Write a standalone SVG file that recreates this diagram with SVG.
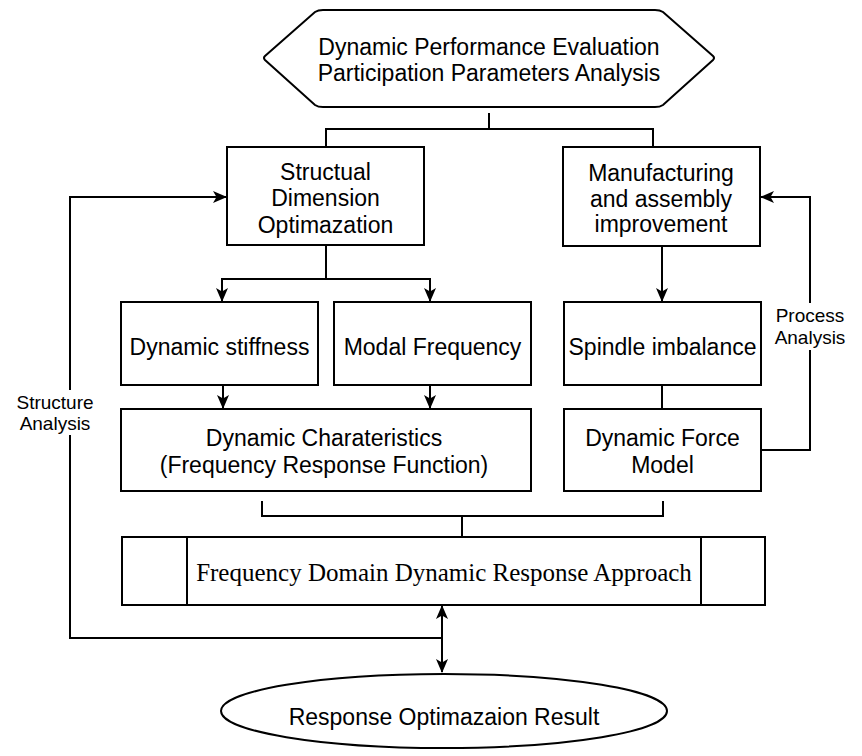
<svg xmlns="http://www.w3.org/2000/svg" width="862" height="756" viewBox="0 0 862 756">
<defs>
<marker id="arr" viewBox="0 0 14 12" refX="13" refY="6" markerWidth="14" markerHeight="12" markerUnits="userSpaceOnUse" orient="auto-start-reverse">
<path d="M0,0 L14,6 L0,12 L3.5,6 z" fill="#000"/>
</marker>
<style>
.box{fill:#fff;stroke:#000;stroke-width:2}
.ln{fill:none;stroke:#000;stroke-width:2}
.t{font-family:"Liberation Sans",Arial,sans-serif;font-size:23px;fill:#000;text-anchor:middle;dominant-baseline:central}
.s{font-family:"Liberation Sans",Arial,sans-serif;font-size:19px;fill:#000;text-anchor:middle;dominant-baseline:central}
.sr{font-family:"Liberation Serif","Times New Roman",serif;font-size:25px;fill:#000;text-anchor:middle;dominant-baseline:central}
</style>
</defs>
<rect width="862" height="756" fill="#fff"/>
<g id="connectors">
<path class="ln" d="M489,113 V129 M326,147 V129 H653 V147"/>
<path class="ln" d="M326,245 V279 H222 V301" marker-end="url(#arr)"/>
<path class="ln" d="M326,279 H430 V301" marker-end="url(#arr)"/>
<path class="ln" d="M662,246 V301" marker-end="url(#arr)"/>
<path class="ln" d="M223,385 V408" marker-end="url(#arr)"/>
<path class="ln" d="M430,385 V408" marker-end="url(#arr)"/>
<path class="ln" d="M662,385 V409"/>
<path class="ln" d="M761,450 H810 V350 M810,303 V197 H761" marker-end="url(#arr)"/>
<path class="ln" d="M262,501 V516 H663 V501 M462,516 V536"/>
<path class="ln" d="M70,435 V638 H442 M70,390 V197 H226" marker-end="url(#arr)"/>
<path class="ln" d="M442,606 V672" marker-start="url(#arr)" marker-end="url(#arr)"/>
</g>
<g id="n-top">
<path class="box" d="M265,56 L315,12 Q318,10 323,10 L655,10 Q660,10 663,12 L713,56 Q715,58 713,60 L663,105 Q660,107 655,107 L323,107 Q318,107 315,105 L265,60 Q263,58 265,56 z"/>
<text class="t" x="489" y="47">Dynamic Performance Evaluation</text>
<text class="t" x="489" y="73">Participation Parameters Analysis</text>
</g>
<g id="n-struct">
<rect class="box" x="227" y="147" width="197" height="98"/>
<text class="t" x="325.5" y="172">Structual</text>
<text class="t" x="325.5" y="198">Dimension</text>
<text class="t" x="325.5" y="225">Optimazation</text>
</g>
<g id="n-manuf">
<rect class="box" x="563" y="147" width="197" height="99"/>
<text class="t" x="661" y="173">Manufacturing</text>
<text class="t" x="661" y="199">and assembly</text>
<text class="t" x="661" y="224">improvement</text>
</g>
<g id="n-stiff">
<rect class="box" x="121" y="302" width="197" height="83"/>
<text class="t" x="219.5" y="347">Dynamic stiffness</text>
</g>
<g id="n-modal">
<rect class="box" x="334" y="302" width="197" height="83"/>
<text class="t" x="432.5" y="347">Modal Frequency</text>
</g>
<g id="n-spindle">
<rect class="box" x="564" y="302" width="197" height="83"/>
<text class="t" x="662.5" y="347">Spindle imbalance</text>
</g>
<g id="n-char">
<rect class="box" x="121" y="409" width="410" height="82"/>
<text class="t" x="324" y="438">Dynamic Charateristics</text>
<text class="t" x="324" y="465">(Frequency Response Function)</text>
</g>
<g id="n-force">
<rect class="box" x="564" y="409" width="197" height="82"/>
<text class="t" x="662.5" y="438">Dynamic Force</text>
<text class="t" x="662.5" y="465">Model</text>
</g>
<g id="n-freq">
<rect class="box" x="122" y="537" width="643" height="68"/>
<path class="ln" d="M187,537 V605 M701,537 V605"/>
<text class="sr" x="444" y="572">Frequency Domain Dynamic Response Approach</text>
</g>
<g id="n-result">
<ellipse class="box" cx="444" cy="711" rx="223" ry="37"/>
<text class="t" x="444" y="717">Response Optimazaion Result</text>
</g>
<g id="labels">
<text class="s" x="55" y="402">Structure</text>
<text class="s" x="55" y="423">Analysis</text>
<text class="s" x="810" y="315">Process</text>
<text class="s" x="810" y="337">Analysis</text>
</g>
</svg>
